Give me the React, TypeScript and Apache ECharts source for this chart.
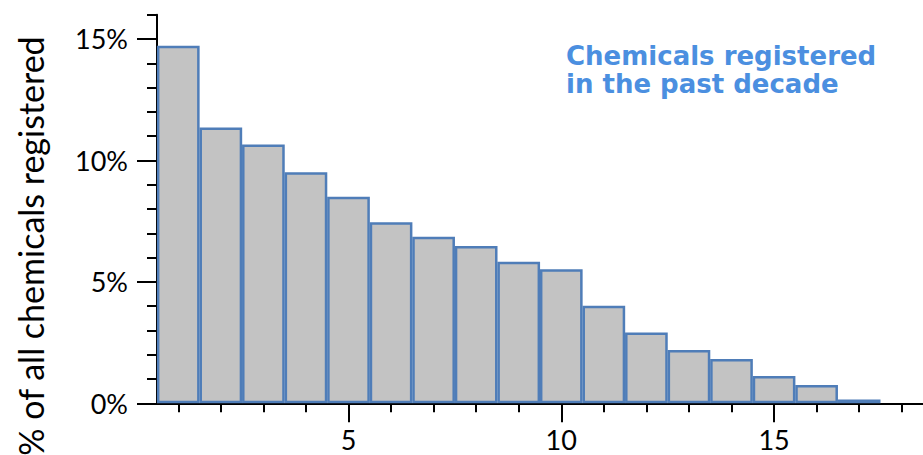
import React, { useEffect, useRef } from "react";
import * as echarts from "echarts";

const binCenters = [1, 2, 3, 4, 5, 6, 7, 8, 9, 10, 11, 12, 13, 14, 15, 16, 17];
const shares = [14.72, 11.36, 10.66, 9.51, 8.5, 7.45, 6.86, 6.48, 5.83, 5.52, 4.02, 2.91, 2.19, 1.82, 1.12, 0.75, 0.16];
const xMinorTicks = [1, 2, 3, 4, 5, 6, 7, 8, 9, 10, 11, 12, 13, 14, 15, 16, 17, 18];
const xMajorTicks = [5, 10, 15];
const yMinorTicks = [0, 1, 2, 3, 4, 5, 6, 7, 8, 9, 10, 11, 12, 13, 14, 15, 16];
const yMajorTicks = [0, 5, 10, 15];
const yAxisTitle = "% of all chemicals registered";
const noteLines = ["Chemicals registered", "in the past decade"];

const FONT = "Lato, 'Open Sans', sans-serif";

export default function App() {
  const ref = useRef<HTMLDivElement>(null);
  useEffect(() => {
    if (!ref.current) return;
    const chart = echarts.init(ref.current, null, { renderer: "svg" });
    const axisLine = { show: true, lineStyle: { color: "#000", width: 2 } };
    chart.setOption({
      animation: false,
      backgroundColor: "#fff",
      grid: { left: 157, right: -2, top: 14.7, bottom: 51.7, containLabel: false },
      xAxis: [
        {
          type: "value",
          min: 0.5,
          max: 18.5,
          position: "bottom",
          axisLine,
          splitLine: { show: false },
          axisTick: { show: true, customValues: xMinorTicks, length: 9, lineStyle: { color: "#000", width: 2 } },
          axisLabel: {
            show: true,
            customValues: xMajorTicks,
            fontSize: 27,
            lineHeight: 27,
            color: "#000",
            fontFamily: FONT,
            margin: 23,
          },
        },
        {
          type: "value",
          min: 0.5,
          max: 18.5,
          position: "bottom",
          axisLine: { show: false },
          splitLine: { show: false },
          axisTick: { show: true, customValues: xMajorTicks, length: 19, lineStyle: { color: "#000", width: 2 } },
          axisLabel: { show: false },
        },
      ],
      yAxis: [
        {
          type: "value",
          min: 0,
          max: 16,
          position: "left",
          axisLine,
          splitLine: { show: false },
          axisTick: { show: true, customValues: yMinorTicks, length: 10, lineStyle: { color: "#000", width: 2 } },
          axisLabel: {
            show: true,
            customValues: yMajorTicks,
            formatter: "{value}%",
            fontSize: 27,
            color: "#000",
            fontFamily: FONT,
            margin: 29,
          },
        },
        {
          type: "value",
          min: 0,
          max: 16,
          position: "left",
          axisLine: { show: false },
          splitLine: { show: false },
          axisTick: { show: true, customValues: yMajorTicks, length: 20, lineStyle: { color: "#000", width: 2 } },
          axisLabel: { show: false },
        },
      ],
      series: [
        {
          type: "bar",
          xAxisIndex: 0,
          yAxisIndex: 0,
          data: binCenters.map((c, i) => [c, shares[i]]),
          barWidth: 42.7,
          itemStyle: { color: "#c3c3c3", borderColor: "#4f7db8", borderWidth: 2.5 },
          emphasis: { disabled: true },
        },
      ],
      graphic: [
        {
          type: "text",
          x: 30,
          y: 246,
          rotation: Math.PI / 2,
          style: {
            text: yAxisTitle,
            font: `34px ${FONT}`,
            fill: "#000",
            align: "center",
            verticalAlign: "middle",
          },
        },
        {
          type: "text",
          left: 566,
          top: 42,
          style: {
            text: noteLines.join("\n"),
            font: `bold 26px 'DejaVu Sans', sans-serif`,
            lineHeight: 28,
            fill: "#4b8fe0",
          },
        },
      ],
    });
    return () => chart.dispose();
  }, []);
  return <div ref={ref} style={{ position: "fixed", left: 0, top: 0, width: 923, height: 455 }} />;
}
